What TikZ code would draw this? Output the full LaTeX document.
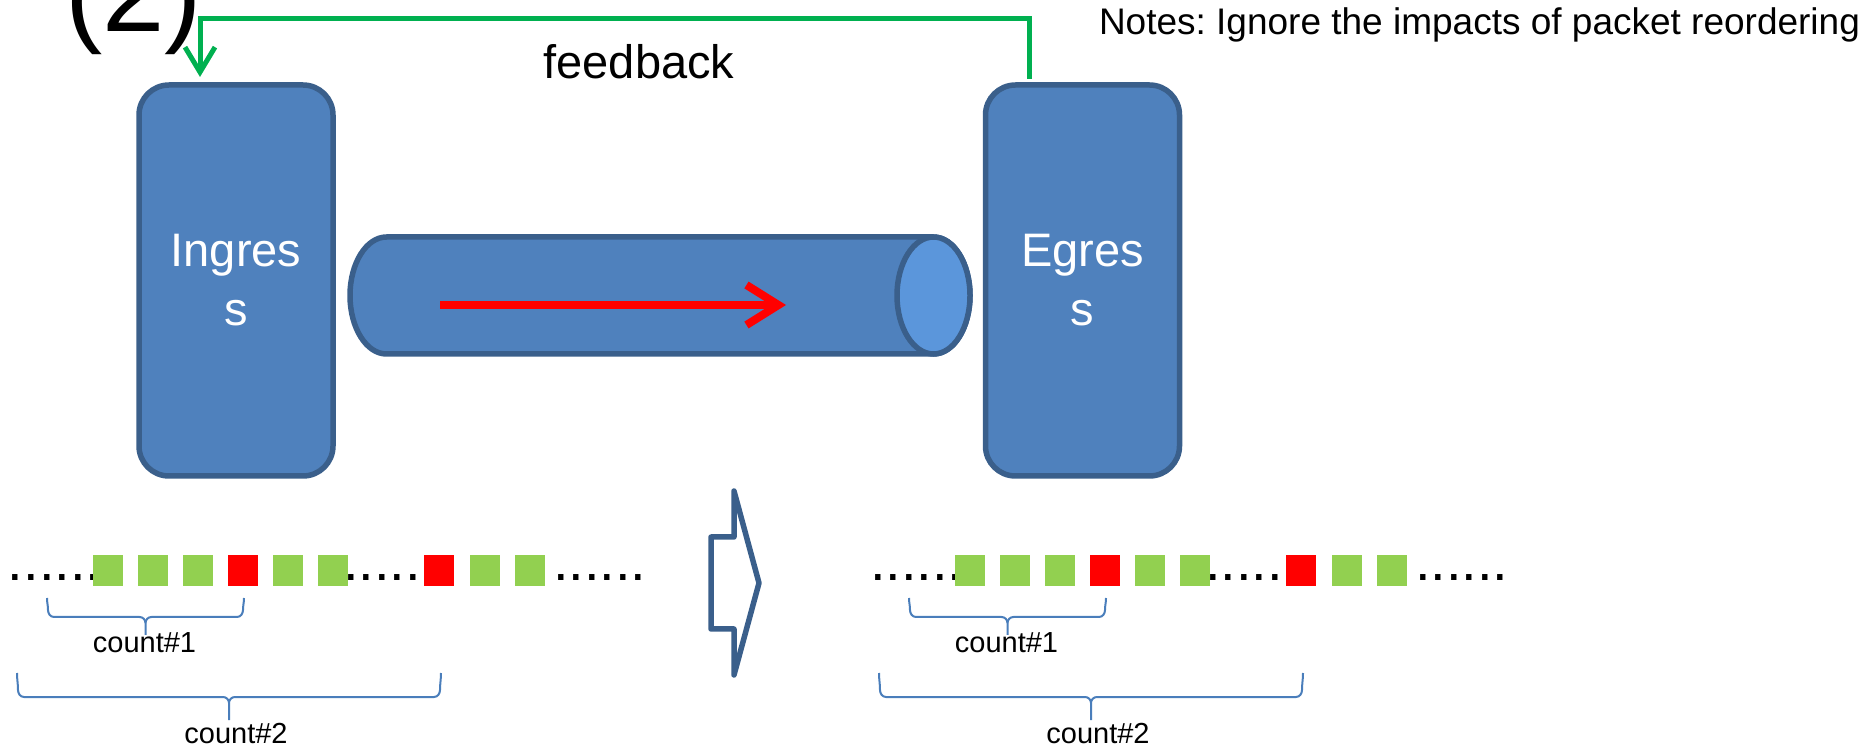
\documentclass[tikz,border=0pt]{standalone}
\usepackage{fontspec}
\setmainfont{Liberation Sans}
\frenchspacing
\usetikzlibrary{arrows.meta,calc}
\definecolor{boxblue}{HTML}{4F81BD}
\definecolor{boxline}{HTML}{3A5F8B}
\definecolor{capblue}{HTML}{5B96DB}
\definecolor{fbgreen}{HTML}{00B050}
\definecolor{pktgreen}{HTML}{92D050}
\definecolor{bracecol}{HTML}{4A7EBB}
% curly brace under a run of packets: left x, right x, top, line, tip
\newcommand{\cntbrace}[5]{%
  \pgfmathsetmacro{\bm}{(#1+#2)/2}
  \draw[brace] (#1,#3) to[out=-90,in=90] (#1+1,{#4+7}) to[out=-90,in=180] ({#1+7},#4)
    -- ({\bm-6},#4) to[out=0,in=90] (\bm,{#4-6}) -- (\bm,#5);
  \draw[brace] (\bm,{#4-6}) to[out=90,in=180] ({\bm+6},#4)
    -- ({#2-7},#4) to[out=0,in=-90] (#2-1,{#4+7}) to[out=90,in=-90] (#2,#3);
}
\begin{document}
\begin{tikzpicture}[x=1pt,y=1pt,
  port/.style={draw=boxline,fill=boxblue,line width=5.5pt,rounded corners=30pt,
    minimum width=194pt,minimum height=391pt,outer sep=0pt,
    text=white,align=center,font=\fontsize{47}{59}\selectfont},
  pipe/.style={draw=boxline,fill=boxblue,line width=5.5pt},
  txt/.style={inner sep=0pt,outer sep=0pt},
  brace/.style={draw=bracecol,line width=2pt},
  dots/.style={txt,anchor=base west,font=\fontsize{56}{56}\selectfont}]
\useasboundingbox (0,0) rectangle (1868,747);

\node[txt,anchor=base west,font=\fontsize{112}{112}\selectfont] (tag) at (65,715) {(2)};
\node[txt,anchor=base west,font=\fontsize{37}{44}\selectfont] (notes) at (1099,712)
  {Notes: Ignore the impacts of packet reordering};

% switches
\node[port] (ingress) at (236,466.5) {Ingres\\s};
\node[port] (egress) at (1082.5,466.5) {Egres\\s};

% link between them
\draw[pipe] (386.5,510) -- (933.5,510)
  arc[start angle=90,end angle=-90,x radius=36.5,y radius=58.5]
  -- (386.5,393) arc[start angle=270,end angle=90,x radius=36.5,y radius=58.5] -- cycle;
\draw[pipe,fill=capblue] (933.5,451.5) ellipse[x radius=36.5,y radius=58.5];
\coordinate (flowa) at (440,442);
\coordinate (flowb) at (786,442);
\draw[red,line width=8pt,-{Straight Barb[length=32pt,width=40pt]}] (flowa) -- (flowb);

% feedback path
\draw[fbgreen,line width=5pt,-{Straight Barb[length=25pt,width=30pt]}]
  ([xshift=43.5pt,yshift=6pt]egress.north west) -- ++(0,60)
  -| ([xshift=61pt,yshift=8pt]ingress.north west);
\node[txt,anchor=base,font=\fontsize{47}{56}\selectfont] (fblabel) at (639,668) {feedback};

% before / after
\draw[boxline,line width=5.5pt,line join=round] (711,210) -- (734,210) -- (734,256)
  -- (759,164) -- (734,72) -- (734,118) -- (711,118) -- cycle;

\foreach \dx in {0,862} {
  \begin{scope}[xshift=\dx pt]
    \node[dots] at (8,166) {......};
    \node[dots] at (343,166) {......};
    \node[dots] at (553,166) {......};
    \foreach \x in {93,138,183,273,318,470,515}
      \fill[pktgreen] (\x,161) rectangle ++(30,31);
    \foreach \x in {228,424}
      \fill[red] (\x,161) rectangle ++(30,31);
    \cntbrace{47}{244}{149}{130}{112}
    \cntbrace{17}{441}{74}{50}{27}
    \node[txt,anchor=base,font=\fontsize{29}{35}\selectfont] at (144.5,95) {count\#1};
    \node[txt,anchor=base,font=\fontsize{29}{35}\selectfont] at (236,4) {count\#2};
  \end{scope}
}
\end{tikzpicture}
\end{document}
